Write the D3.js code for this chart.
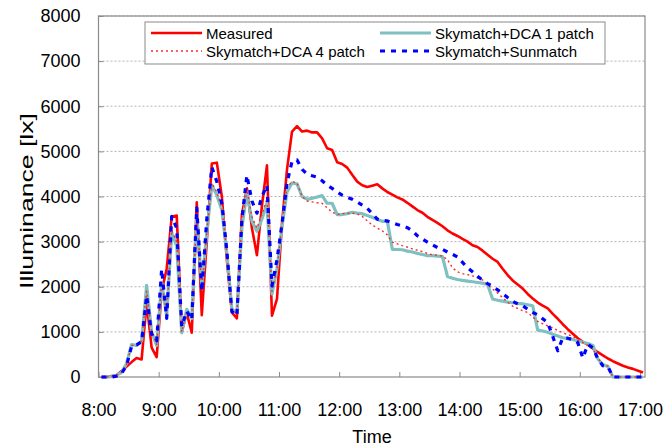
<!DOCTYPE html>
<html><head><meta charset="utf-8">
<script src="https://cdn.jsdelivr.net/npm/d3@7"></script>
<style>body{margin:0;background:#fff}svg{display:block}text{font-family:"Liberation Sans",Arial,sans-serif}</style>
</head><body>
<svg id="c" width="665" height="447"></svg>
<script>
// minutes after 8:00
const minutes = [3,8,13,18,23,28,33,38,43,48,53,58,63,68,73,78,83,88,93,98,103,108,113,118,123,128,133,138,143,148,153,158,163,168,173,178,183,188,193,198,203,208,213,218,223,228,233,238,243,248,253,258,263,268,273,278,283,288,293,298,303,308,313,318,323,328,333,338,343,348,353,358,363,368,373,378,383,388,393,398,403,408,413,418,423,428,433,438,443,448,453,458,463,468,473,478,483,488,493,498,503,508,513,518,523,528,533,538,543];
const measured = [0,0,20,40,130,230,330,420,390,1650, 650,440,1900,2400,3550,3580,1000,1420,980,3870, 1370,3000,4730,4750,4000,2600,1430,1300,3600,4180, 3300,2700,3800,4690,1360,1730,3400,4600,5440,5560, 5440,5460,5420,5420,5290,5070,5030,4760,4720,4640, 4480,4330,4250,4210,4240,4270,4180,4100,4040,3980, 3935,3860,3780,3700,3640,3550,3480,3415,3340,3250, 3180,3125,3060,3000,2920,2880,2800,2710,2620,2550, 2400,2260,2140,2050,1960,1840,1740,1650,1580,1520, 1400,1290,1170,1060,960,860,780,720,630,550, 480,410,350,300,250,210,180,140,100];
const dca1 = [0,0,10,40,100,300,720,700,800,2030, 1000,700,2100,1350,3190,2900,980,1500,1300,3560, 2020,3200,4250,4030,3700,2750,1500,1430,3300,4100, 3450,3230,3500,3850,1840,2400,3330,4100,4300,4280, 4000,3940,3960,3990,4020,3850,3850,3600,3600,3620, 3650,3630,3620,3580,3540,3490,3450,3460,2830,2825, 2820,2790,2770,2740,2715,2690,2690,2680,2670,2230, 2190,2160,2140,2125,2110,2095,2080,2050,1730,1700, 1680,1660,1645,1630,1620,1600,1580,1040,1020,990, 945,910,870,850,830,800,770,740,700,400, 270,235,0,0,0,0,0,0,0];
const dca4 = [0,0,10,40,100,280,700,700,800,1900, 1000,720,2100,1400,3250,3000,1000,1450,1350,3600, 1950,3200,4300,4100,3750,2750,1500,1400,3400,4150, 3550,3300,3600,3950,1900,2400,3400,4200,4330,4300, 4000,3900,3880,3860,3850,3750,3650,3600,3620,3630, 3630,3610,3560,3460,3370,3300,3240,3150,2990,2950, 2910,2880,2840,2810,2780,2740,2710,2700,2680,2600, 2420,2330,2290,2270,2240,2200,2150,2050,1950,1860, 1760,1660,1570,1520,1470,1430,1330,1230,1180,1130, 1090,1030,980,940,900,830,760,700,620,420, 280,240,0,0,0,0,0,0,0];
const sunmatch = [0,0,0,20,80,250,680,710,780,1800, 950,800,2390,1300,3560,3300,1120,1460,1270,3750, 1900,3500,4650,4330,3850,2800,1450,1360,3500,4470, 3900,3630,4000,4250,2020,2600,3400,4300,4780,4810, 4600,4500,4460,4430,4350,4250,4180,4100,4030,3980, 3940,3880,3810,3740,3620,3500,3480,3455,3420,3380, 3350,3310,3240,3130,3060,2990,2930,2870,2830,2770, 2720,2660,2540,2420,2330,2230,2150,2070,2010,1930, 1850,1760,1680,1620,1580,1500,1430,1380,1290,1200, 900,580,870,860,830,760,420,720,650,400, 250,230,0,0,0,0,0,0,0];
const xTickMinutes = [0,60,120,180,240,300,360,420,480,540];
const xTickLabels = ["8:00","9:00","10:00","11:00","12:00","13:00","14:00","15:00","16:00","17:00"];
const yTicks = [0,1000,2000,3000,4000,5000,6000,7000,8000];
const seriesNames = ["Measured","Skymatch+DCA 1 patch","Skymatch+DCA 4 patch","Skymatch+Sunmatch"];

const svg = d3.select("#c");
const L = 98.5, R = 645, T = 16, B = 377;
const x = d3.scaleLinear().domain([0,545]).range([L,R]);
const y = d3.scaleLinear().domain([0,8000]).range([B,T]);

// grid
svg.append("g").selectAll("line").data(yTicks.slice(1)).join("line")
  .attr("x1",L).attr("x2",R).attr("y1",d=>y(d)).attr("y2",d=>y(d))
  .attr("stroke","#b4b4b4").attr("stroke-width",1).attr("stroke-dasharray","2,2");

// frame
svg.append("rect").attr("x",L).attr("y",T).attr("width",R-L).attr("height",B-T)
  .attr("fill","none").attr("stroke","#8a8a8a").attr("stroke-width",1.2);

// axes
const xAxis = d3.axisBottom(x).tickValues(xTickMinutes).tickFormat((d,i)=>xTickLabels[i]).tickSizeInner(-5).tickSizeOuter(0).tickPadding(26);
const gx = svg.append("g").attr("transform",`translate(0,${B})`).call(xAxis);
gx.select(".domain").remove();
gx.selectAll("line").attr("stroke","#8a8a8a");
gx.selectAll("text").attr("font-size",18).attr("fill","#000");

const yAxis = d3.axisLeft(y).tickValues(yTicks).tickFormat(d3.format("d")).tickSizeInner(-5).tickSizeOuter(0).tickPadding(18);
const gy = svg.append("g").attr("transform",`translate(${L},0)`).call(yAxis);
gy.select(".domain").remove();
gy.selectAll("line").attr("stroke","#8a8a8a");
gy.selectAll("text").attr("font-size",18).attr("fill","#000");

// titles
svg.append("text").attr("x",372).attr("y",443).attr("text-anchor","middle").attr("font-size",18).text("Time");
svg.append("text").attr("transform","translate(33,201) rotate(-90)").attr("text-anchor","middle").attr("font-size",18)
  .attr("textLength",176).attr("lengthAdjust","spacingAndGlyphs").text("Illuminance [lx]");

// lines
const mk = vals => d3.line().x((d,i)=>x(minutes[i])).y(d=>y(d))(vals);
const styles = [
  {data:measured, color:"#ff0000", w:2.6, dash:null},
  {data:dca1, color:"#7fc0c0", w:3.2, dash:null},
  {data:dca4, color:"#ff2a2a", w:1.4, dash:"2,3"},
  {data:sunmatch, color:"#0000ff", w:3.2, dash:"5,6"}
];
const gl = svg.append("g");
styles.forEach(s=>{
  gl.append("path").attr("d",mk(s.data)).attr("fill","none").attr("stroke",s.color)
    .attr("stroke-width",s.w).attr("stroke-dasharray",s.dash).attr("stroke-linejoin","round");
});

// legend
const lg = svg.append("g");
lg.append("rect").attr("x",145).attr("y",22).attr("width",460).attr("height",42).attr("fill","#fff").attr("stroke","#8a8a8a").attr("stroke-width",1);
const legendPos = [[151,33],[380,33],[151,51],[380,51]];
styles.forEach((s,i)=>{
  const [lx,ly] = legendPos[i];
  lg.append("line").attr("x1",lx).attr("x2",lx+51).attr("y1",ly).attr("y2",ly)
    .attr("stroke",s.color).attr("stroke-width",s.w).attr("stroke-dasharray",s.dash);
  lg.append("text").attr("x",lx+55).attr("y",ly+5.5).attr("font-size",15).text(seriesNames[i]);
});
</script>
</body></html>
